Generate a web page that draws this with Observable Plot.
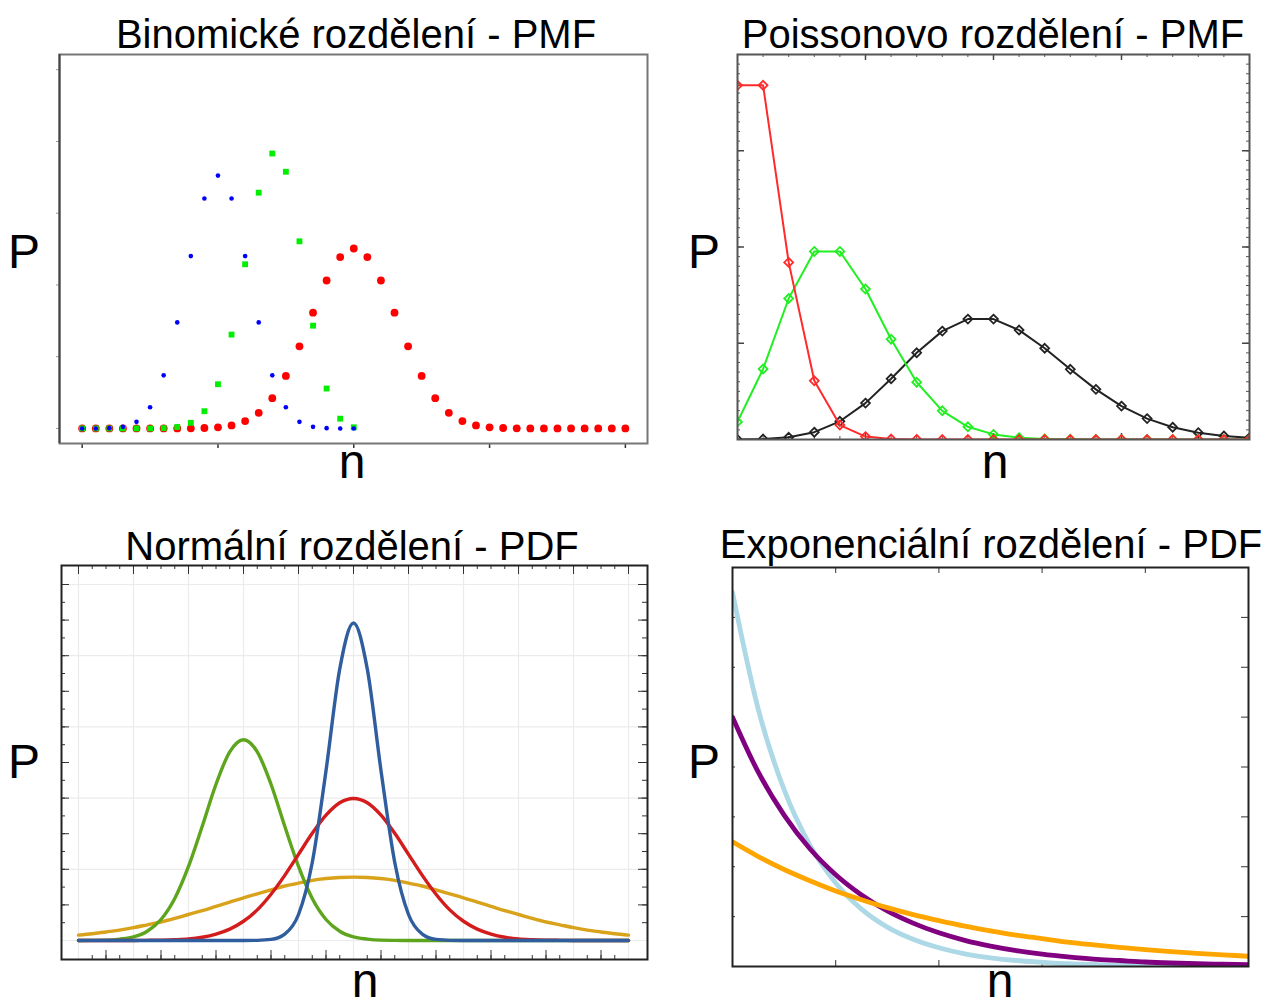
<!DOCTYPE html>
<html><head><meta charset="utf-8">
<script src="https://cdn.jsdelivr.net/npm/d3@7"></script>
<script src="https://cdn.jsdelivr.net/npm/@observablehq/plot@0.6"></script>
<style>
body{margin:0;background:#fff;}
#root{position:relative;width:1268px;height:1008px;overflow:hidden;background:#fff;}
#root svg{position:absolute;}
</style></head><body><div id="root"></div>
<script>
// ---------- Data ----------
// Binomial PMF
const binomN = [0,1,2,3,4,5,6,7,8,9,10,11,12,13,14,15,16,17,18,19,20,21,22,23,24,25,26,27,28,29,30,31,32,33,34,35,36,37,38,39,40];
const binomBlue = [0,0,0.0002,0.0011,0.0046,0.0148,0.0370,0.0739,0.1201,0.1602,0.1762,0.1602,0.1201,0.0739,0.0370,0.0148,0.0046,0.0011,0.0002,0,0];
const binomGreen = [0,0,0,0,0,0,0.0002,0.0010,0.0039,0.0120,0.0308,0.0654,0.1144,0.1643,0.1916,0.1789,0.1304,0.0716,0.0278,0.0068,0.0008];
const binomRed = [0,0,0,0,0,0,0,0,0.0001,0.0003,0.0008,0.0021,0.0051,0.0109,0.0211,0.0366,0.0572,0.0807,0.1031,0.1194,0.1254,0.1194,0.1031,0.0807,0.0572,0.0366,0.0211,0.0109,0.0051,0.0021,0.0008,0.0003,0.0001,0,0,0,0,0,0,0,0];
const binomTicksX = [0,10,20,30,40];
const binomTicksY = [0,0.05,0.1,0.15,0.2,0.25];

// Poisson PMF
const poisN = [0,1,2,3,4,5,6,7,8,9,10,11,12,13,14,15,16,17,18,19,20];
const poisRed = [0.368,0.368,0.184,0.061,0.015,0.003,0.0005,0.0001,0,0,0,0,0,0,0,0,0,0,0,0,0];
const poisGreen = [0.0183,0.0733,0.1465,0.1954,0.1954,0.1563,0.1042,0.0595,0.0298,0.0132,0.0053,0.0019,0.0006,0.0002,0.0001,0,0,0,0,0,0];
const poisBlack = [0,0.0005,0.0023,0.0076,0.0189,0.0378,0.0631,0.0901,0.1126,0.1251,0.1251,0.1137,0.0948,0.0729,0.0521,0.0347,0.0217,0.0128,0.0071,0.0037,0.0019];

// Normal PDF
const normX = [-5,-4.75,-4.5,-4.25,-4,-3.75,-3.5,-3.25,-3,-2.75,-2.5,-2.25,-2,-1.75,-1.5,-1.25,-1,-0.75,-0.5,-0.25,0,0.25,0.5,0.75,1,1.25,1.5,1.75,2,2.25,2.5,2.75,3,3.25,3.5,3.75,4,4.25,4.5,4.75,5];
const normBlue = [0,0,0,0,0,0,0,0,0,0,0,0,0,0.0004,0.003,0.018,0.073,0.219,0.477,0.763,0.892,0.763,0.477,0.219,0.073,0.018,0.003,0.0004,0,0,0,0,0,0,0,0,0,0,0,0,0];
const normRed = [0,0,0,0,0.0001,0.0004,0.001,0.002,0.004,0.009,0.018,0.032,0.054,0.086,0.130,0.183,0.242,0.301,0.352,0.387,0.399,0.387,0.352,0.301,0.242,0.183,0.130,0.086,0.054,0.032,0.018,0.009,0.004,0.002,0.001,0.0004,0.0001,0,0,0,0];
const normOrange = [0.015,0.019,0.024,0.029,0.036,0.044,0.052,0.062,0.073,0.084,0.096,0.108,0.120,0.131,0.142,0.153,0.161,0.169,0.174,0.177,0.178,0.177,0.174,0.169,0.161,0.153,0.142,0.131,0.120,0.108,0.096,0.084,0.073,0.062,0.052,0.044,0.036,0.029,0.024,0.019,0.015];
const normGreen = [0,0.0003,0.001,0.004,0.010,0.026,0.059,0.118,0.208,0.321,0.439,0.530,0.564,0.530,0.439,0.321,0.208,0.118,0.059,0.026,0.010,0.004,0.001,0.0003,0,0,0,0,0,0,0,0,0,0,0,0,0,0,0,0,0];
const normGridX = [-5,-4,-3,-2,-1,0,1,2,3,4,5];
const normGridY = [0,0.2,0.4,0.6,0.8,1.0];

// Exponential PDF
const expX = [0,0.25,0.5,0.75,1,1.25,1.5,1.75,2,2.25,2.5,2.75,3,3.25,3.5,3.75,4,4.25,4.5,4.75,5];
const expOrange = [0.5,0.441,0.389,0.344,0.303,0.268,0.236,0.208,0.184,0.162,0.143,0.126,0.112,0.098,0.087,0.077,0.068,0.060,0.053,0.047,0.041];
const expPurple = [1,0.779,0.607,0.472,0.368,0.287,0.223,0.174,0.135,0.105,0.082,0.064,0.050,0.039,0.030,0.024,0.018,0.014,0.011,0.009,0.007];
const expBlue = [1.5,1.031,0.709,0.487,0.335,0.230,0.158,0.109,0.075,0.051,0.035,0.024,0.017,0.011,0.008,0.005,0.004,0.003,0.002,0.001,0.001];

// Texts
const titles = ["Binomické rozdělení - PMF","Poissonovo rozdělení - PMF","Normální rozdělení - PDF","Exponenciální rozdělení - PDF"];
const yLabel = "P";
const xLabel = "n";

// ---------- Helpers ----------
const root = document.getElementById("root");
const FONT = "'Liberation Sans', Arial, sans-serif";
const rows = (xs, ys) => ys.map((v, i) => ({x: xs[i], y: v}));

function panel({left, top, fw, fh, m = 14, x, y, marks}) {
  const svg = Plot.plot({
    width: fw + 2*m, height: fh + 2*m, margin: m,
    x: {domain: x, axis: null}, y: {domain: y, axis: null},
    style: {background: "transparent", overflow: "visible"},
    marks
  });
  svg.style.left = (left - m) + "px";
  svg.style.top = (top - m) + "px";
  root.appendChild(svg);
}
// inward / outward tick helpers (length in px via insets)
const tB = (fh, vals, len, o={}) => Plot.tickX(vals, {x: d=>d, insetTop: fh - len, ...o});
const tT = (fh, vals, len, o={}) => Plot.tickX(vals, {x: d=>d, insetBottom: fh - len, ...o});
const tL = (fw, vals, len, o={}) => Plot.tickY(vals, {y: d=>d, insetRight: fw - len, ...o});
const tR = (fw, vals, len, o={}) => Plot.tickY(vals, {y: d=>d, insetLeft: fw - len, ...o});

// ---------- Panel 1: Binomial ----------
{
  const fw = 588, fh = 389;
  panel({left: 59, top: 54, fw, fh, x: [-1.67, 41.63], y: [-0.0105, 0.2606], marks: [
    Plot.tickX(binomTicksX, {x: d=>d, insetTop: fh, insetBottom: -5, stroke: "#333", strokeWidth: 1.5}),
    Plot.tickY(binomTicksY, {y: d=>d, insetLeft: -3, insetRight: fw, stroke: "#999", strokeWidth: 1}),
    Plot.dot(rows(binomN, binomRed), {x: "x", y: "y", r: 3.9, fill: "#ff0000", stroke: "none"}),
    Plot.dot(rows(binomN, binomGreen), {x: "x", y: "y", symbol: "square", r: 3.3, fill: "#00ee00", stroke: "none"}),
    Plot.dot(rows(binomN, binomBlue), {x: "x", y: "y", r: 2.3, fill: "#0000ff", stroke: "none"}),
    Plot.frame({stroke: "#777", strokeWidth: 2}),
    Plot.ruleX([-1.67], {stroke: "#444", strokeWidth: 2})
  ]});
}

// ---------- Panel 2: Poisson ----------
{
  const fw = 512, fh = 385;
  const minorY = d3.range(0.01, 0.4, 0.01), majorY = [0.1,0.2,0.3];
  const minorX = poisN, majorX = [5,10,15];
  const series = [[poisBlack, "#222"], [poisGreen, "#22ee22"], [poisRed, "#ff2a2a"]];
  const marks = [];
  for (const [vals, c] of series) {
    marks.push(Plot.line(rows(poisN, vals), {x: "x", y: "y", stroke: c, strokeWidth: 2, clip: true}));
    marks.push(Plot.dot(rows(poisN, vals), {x: "x", y: "y", symbol: "diamond2", r: 4, stroke: c, fill: "none", strokeWidth: 1.8, clip: true}));
  }
  panel({left: 737, top: 54, fw, fh, x: [0, 20], y: [0, 0.4], marks: [
    tL(fw, minorY, 3, {stroke: "#555"}), tL(fw, majorY, 7, {stroke: "#444", strokeWidth: 1.5}),
    tR(fw, minorY, 3, {stroke: "#555"}), tR(fw, majorY, 7, {stroke: "#444", strokeWidth: 1.5}),
    tT(fh, minorX, 3, {stroke: "#555"}), tT(fh, majorX, 6, {stroke: "#444", strokeWidth: 1.5}),
    tB(fh, minorX, 3, {stroke: "#555"}), tB(fh, majorX, 6, {stroke: "#444", strokeWidth: 1.5}),
    ...marks,
    Plot.frame({stroke: "#555", strokeWidth: 2})
  ]});
}

// ---------- Panel 3: Normal ----------
{
  const fw = 586, fh = 394;
  const qX = d3.range(-5, 5.01, 0.25);
  const topMinor = qX, topMajor = normGridX;
  const botMinor = qX.filter(v => !Number.isInteger(v)), botMajor = qX.filter(v => Math.abs(v % 1) === 0.5);
  const yMinor = d3.range(0.05, 1.03, 0.05), yMajor = d3.range(0.1, 1.03, 0.1);
  const curves = [[normOrange, "#d9a21b"], [normGreen, "#5ea51e"], [normRed, "#d41c1c"], [normBlue, "#2f5d9e"]];
  panel({left: 61, top: 565, fw, fh, x: [-5.309, 5.345], y: [-0.0534, 1.0534], marks: [
    Plot.ruleX(normGridX, {stroke: "#ebebeb", strokeWidth: 1.2}),
    Plot.ruleY(normGridY, {stroke: "#ebebeb", strokeWidth: 1.2}),
    tL(fw, yMinor, 4, {stroke: "#333"}), tL(fw, yMajor, 8, {stroke: "#333"}),
    tR(fw, yMinor, 5, {stroke: "#333"}), tR(fw, yMajor, 9, {stroke: "#333"}),
    tT(fh, topMinor, 4, {stroke: "#333"}), tT(fh, topMajor, 9, {stroke: "#333"}),
    tB(fh, botMinor, 4, {stroke: "#333"}), tB(fh, botMajor, 9, {stroke: "#333"}),
    ...curves.map(([vals, c]) => Plot.line(rows(normX, vals), {x: "x", y: "y", stroke: c, strokeWidth: 3.4, curve: "monotone-x"})),
    Plot.frame({stroke: "#222", strokeWidth: 2})
  ]});
}

// ---------- Panel 4: Exponential ----------
{
  const fw = 516, fh = 399;
  const xt = [1,2,3,4], yt = [0.2,0.4,0.6,0.8,1.0,1.2,1.4];
  const curves = [[expBlue, "#add8e6"], [expPurple, "#800080"], [expOrange, "#ffa500"]];
  panel({left: 732, top: 567, fw, fh, x: [0, 5], y: [0, 1.6], marks: [
    tL(fw, yt, 3, {stroke: "#333"}), tR(fw, yt, 7, {stroke: "#333"}),
    tT(fh, xt, 6, {stroke: "#333"}), tB(fh, xt, 6, {stroke: "#333"}),
    ...curves.map(([vals, c]) => Plot.line(rows(expX, vals), {x: "x", y: "y", stroke: c, strokeWidth: 4.8, curve: "monotone-x", clip: true})),
    Plot.frame({stroke: "#222", strokeWidth: 2})
  ]});
}

// ---------- Text overlay ----------
{
  const ns = "http://www.w3.org/2000/svg";
  const svg = document.createElementNS(ns, "svg");
  svg.setAttribute("width", 1268); svg.setAttribute("height", 1008);
  svg.style.left = "0px"; svg.style.top = "0px"; svg.style.pointerEvents = "none";
  const add = (txt, x, y, size) => {
    const t = document.createElementNS(ns, "text");
    t.setAttribute("x", x); t.setAttribute("y", y);
    t.setAttribute("text-anchor", "middle");
    t.setAttribute("font-family", FONT);
    t.setAttribute("font-size", size);
    t.setAttribute("fill", "#000");
    t.textContent = txt;
    svg.appendChild(t);
  };
  add(titles[0], 356, 48, 40);
  add(titles[1], 993, 48, 40);
  add(titles[2], 352, 560, 40);
  add(titles[3], 991, 558, 40);
  add(yLabel, 24, 268, 48); add(yLabel, 704, 268, 48);
  add(yLabel, 24, 778, 48); add(yLabel, 704, 778, 48);
  add(xLabel, 352, 478, 48); add(xLabel, 995, 478, 48);
  add(xLabel, 365, 997, 48); add(xLabel, 1000, 997, 48);
  root.appendChild(svg);
}
</script></body></html>
